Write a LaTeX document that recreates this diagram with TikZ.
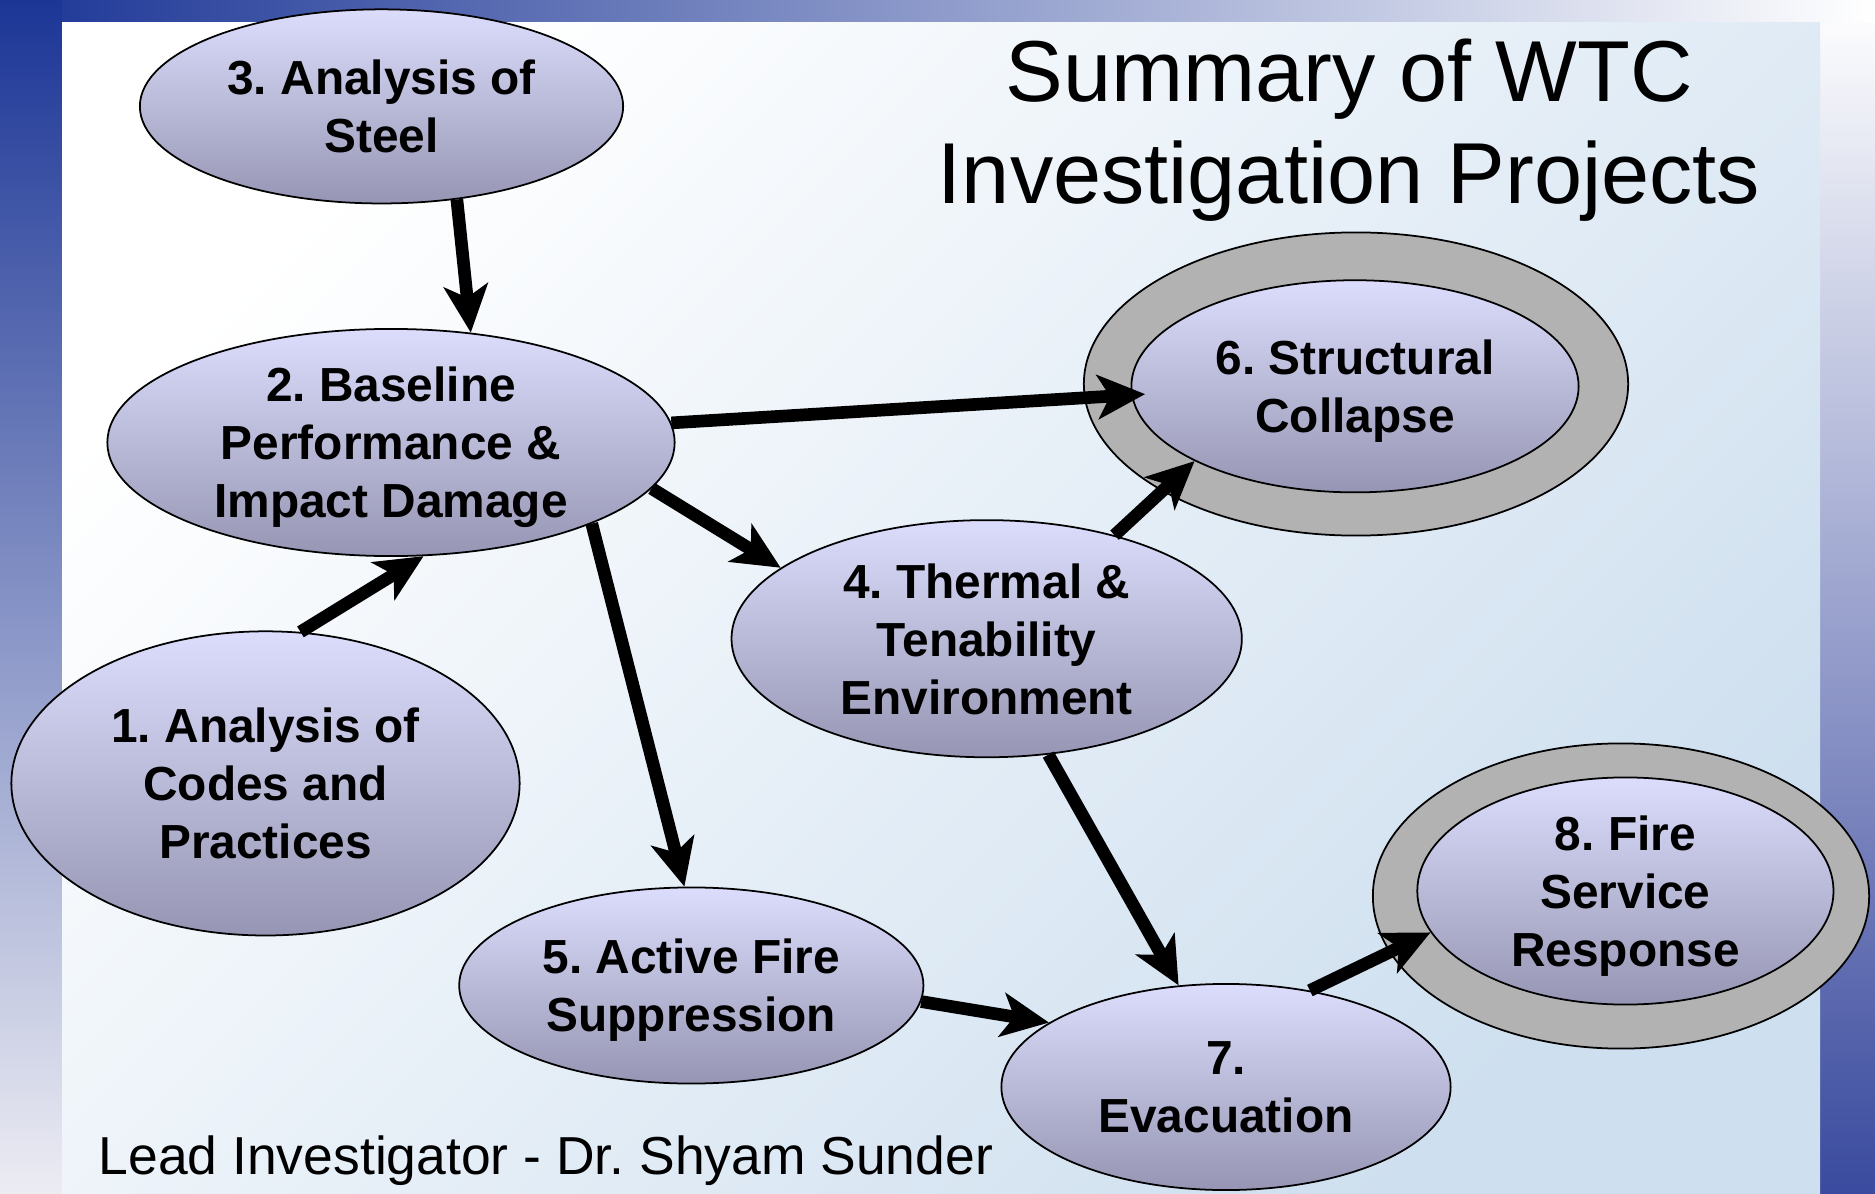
\documentclass[tikz,border=0pt]{standalone}
\usepackage{fontspec}
\setmainfont{Liberation Sans}
\frenchspacing
\usetikzlibrary{shapes.geometric,arrows.meta}

\definecolor{elltop}{RGB}{220,220,252}
\definecolor{ellbot}{RGB}{150,150,180}
\definecolor{ringgray}{RGB}{178,178,178}
\definecolor{bandblue}{RGB}{28,54,150}
\definecolor{bandpale}{RGB}{236,236,243}
\definecolor{pnlblue}{RGB}{206,223,239}
\definecolor{rightblue}{RGB}{58,74,158}

\tikzset{
  proj/.style={ellipse, draw=black, line width=0.5pt, top color=elltop, bottom color=ellbot,
    align=center, inner xsep=0pt, inner ysep=-6pt, text depth=0pt,
    font=\bfseries\fontsize{13.6}{16.5}\selectfont},
  ring/.style={ellipse, draw=black, line width=0.5pt, fill=ringgray, inner sep=0pt},
  flow/.style={line width=3.6pt, -{Stealth[length=13.5pt,width=12.5pt,inset=3.5pt]}},
  title/.style={align=center, font=\fontsize{24.6}{28.9}\selectfont}
}

\begin{document}
\begin{tikzpicture}[x=0.01cm,y=-0.01cm]
  \useasboundingbox (0,0) rectangle (1875,1194);

  % background bands and panel
  \shade[top color=white, bottom color=rightblue] (1820,0) rectangle (1875,1194);
  \shade[left color=bandblue, right color=white] (0,0) rectangle (1875,23);
  \shade[top color=bandblue, bottom color=bandpale] (0,0) rectangle (62,1194);
  \shade[top color=white, bottom color=pnlblue, shading angle=45] (62,23) rectangle (1820,1194);

  \node[title] (title) at (1349,130) {Summary of WTC\\Investigation Projects};

  % grey rings behind 6 and 8
  \node[ring, minimum width=5.44cm, minimum height=3.03cm] (e6ring) at (1356,384) {};
  \node[ring, minimum width=4.96cm, minimum height=3.05cm] (e8ring) at (1621,896) {};

  \node[proj, minimum width=4.83cm, minimum height=1.94cm] (e3) at (381.5,106.4) {3. Analysis of\\Steel};
  \node[proj, minimum width=5.67cm, minimum height=2.27cm] (e2) at (391,442.5) {2. Baseline\\Performance \&\\Impact Damage};
  \node[proj, minimum width=5.08cm, minimum height=3.04cm] (e1) at (265.5,783.4) {1. Analysis of\\Codes and\\Practices};
  \node[proj, minimum width=5.10cm, minimum height=2.37cm] (e4) at (986.7,638.7) {4. Thermal \&\\Tenability\\Environment};
  \node[proj, minimum width=4.64cm, minimum height=1.96cm] (e5) at (691.3,985.5) {5. Active Fire\\Suppression};
  \node[proj, minimum width=4.47cm, minimum height=2.12cm] (e6) at (1355,386.3) {6. Structural\\Collapse};
  \node[proj, minimum width=4.49cm, minimum height=2.06cm] (e7) at (1226,1087) {7.\\Evacuation};
  \node[proj, minimum width=4.16cm, minimum height=2.27cm] (e8) at (1625.4,891) {8. Fire\\Service\\Response};

  \draw[flow] (e3.-51) -- (e2.54);
  \draw[flow] (e1.77) -- (e2.-74);
  \draw[flow] (e2.4) -- ([xshift=4pt]e6.182);
  \draw[flow] (e2.-10) -- (e4.161);
  \draw[flow] (e2.-22) -- (e5.94);
  \draw[flow] (e4.39) -- (e6.205);
  \draw[flow] (e4.-62) -- (e7.115);
  \draw[flow] (e5.-4) -- (e7.160);
  \draw[flow] (e7.49) -- (e8.192);

  \node[anchor=base west, inner sep=0pt, font=\fontsize{15.2}{18}\selectfont] (lead) at (98,1174) {Lead Investigator - Dr. Shyam Sunder};

\end{tikzpicture}
\end{document}
